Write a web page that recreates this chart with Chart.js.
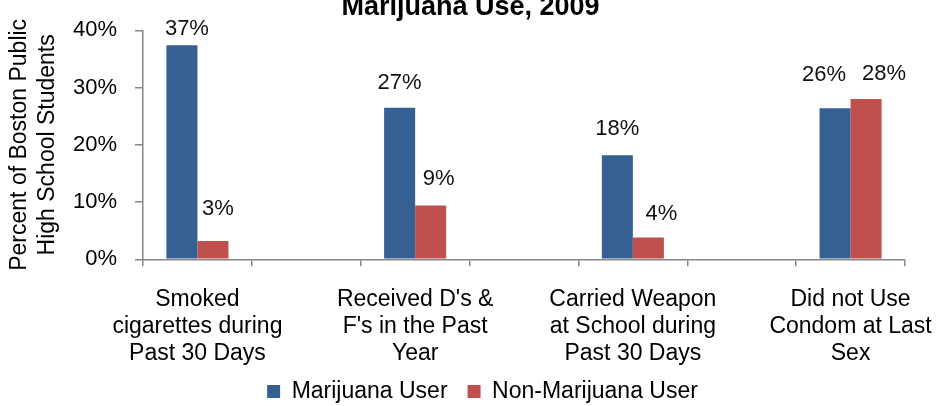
<!DOCTYPE html>
<html>
<head>
<meta charset="utf-8">
<script src="https://cdn.jsdelivr.net/npm/chart.js@4.4.1/dist/chart.umd.min.js"></script>
<style>
  html, body { margin: 0; padding: 0; background: #fff; overflow: hidden; }
  #wrap { position: relative; width: 941px; height: 433px; margin-top: -20px; }
</style>
</head>
<body>
<div id="wrap"><canvas id="chart"></canvas></div>
<script>
// blank slots between groups keep the wide gaps between the bar pairs
const categories = [
    ['Smoked', 'cigarettes during', 'Past 30 Days'],
    '',
    ["Received D's &", "F's in the Past", 'Year'],
    '',
    ['Carried Weapon', 'at School during', 'Past 30 Days'],
    '',
    ['Did not Use', 'Condom at Last', 'Sex']
];
const marijuanaUser = [37.4, null, 26.5, null, 18.2, null, 26.4];
const nonMarijuanaUser = [3.2, null, 9.4, null, 3.8, null, 28.0];
const yTicks = [0, 10, 20, 30, 40];

const FONT = "'Liberation Sans', Arial, sans-serif";
const AXIS_GREY = '#868686';
const X_SQUEEZE = 27; // x labels run a little into the legend's band

// label nudges per bar: [dx, distance from bar top to label centre]
const labelNudge = [
    [[5, 16], null, [0, 25], null, [0, 26], null, [-11, 33]],
    [[5, 32], null, [8, 27], null, [13, 24], null, [18, 25]]
];

const valueLabels = {
    id: 'valueLabels',
    afterDatasetsDraw(chart) {
        const ctx = chart.ctx;
        ctx.save();
        ctx.font = `22px ${FONT}`;
        ctx.fillStyle = '#111';
        ctx.textAlign = 'center';
        ctx.textBaseline = 'middle';
        chart.data.datasets.forEach((ds, di) => {
            chart.getDatasetMeta(di).data.forEach((bar, i) => {
                const v = ds.data[i];
                if (v == null) return;
                const [dx, gap] = labelNudge[di][i] || [0, 14];
                ctx.fillText(Math.round(v) + '%', bar.x + dx, bar.y - gap);
            });
        });
        ctx.restore();
    }
};

// title and legend sit centred on the whole page, not on the padded plot
const recentre = {
    id: 'recentre',
    afterLayout(chart) {
        const t = chart.titleBlock, l = chart.legend;
        if (t) { t.left += 18; t.right += 18; }
        if (l) { l.left += 30; l.right += 30; }
        // give the label clip box its room back
        chart.scales.x.bottom += X_SQUEEZE;
    }
};

new Chart(document.getElementById('chart').getContext('2d'), {
    type: 'bar',
    data: {
        labels: categories,
        datasets: [
            {
                label: 'Marijuana User',
                data: marijuanaUser,
                backgroundColor: '#376092',
                categoryPercentage: 0.57,
                barPercentage: 1.0
            },
            {
                label: 'Non-Marijuana User',
                data: nonMarijuanaUser,
                backgroundColor: '#C0504D',
                categoryPercentage: 0.57,
                barPercentage: 1.0
            }
        ]
    },
    options: {
        responsive: true,
        maintainAspectRatio: false,
        animation: false,
        layout: { padding: { left: 0, right: 36, top: 0, bottom: 0 } },
        plugins: {
            title: {
                display: true,
                text: 'Marijuana Use, 2009',
                color: '#000',
                font: { family: FONT, size: 27, weight: 'bold' },
                padding: { top: 11, bottom: 7 }
            },
            legend: {
                position: 'bottom',
                labels: {
                    color: '#000',
                    font: { family: FONT, size: 23 },
                    boxWidth: 13,
                    boxHeight: 13,
                    padding: 20
                }
            },
            tooltip: { enabled: false }
        },
        scales: {
            x: {
                // long wrapped labels may spill past the plot edges
                afterFit: s => { s.paddingLeft = 0; s.paddingRight = 0; s.height -= X_SQUEEZE; },
                grid: {
                    display: true,
                    drawOnChartArea: false,
                    tickLength: 7,
                    color: AXIS_GREY,
                    lineWidth: 1.5
                },
                border: { color: AXIS_GREY, width: 1.5 },
                ticks: {
                    color: '#000',
                    font: { family: FONT, size: 23, lineHeight: 1.17 },
                    autoSkip: false,
                    maxRotation: 0,
                    minRotation: 0,
                    padding: 20
                }
            },
            y: {
                min: 0,
                max: 40,
                afterBuildTicks: s => { s.ticks = yTicks.map(v => ({ value: v })); },
                afterFit: s => { s.width = 143; },
                grid: {
                    display: true,
                    drawOnChartArea: false,
                    tickLength: 8,
                    color: AXIS_GREY,
                    lineWidth: 1.5
                },
                border: { color: AXIS_GREY, width: 1.5 },
                ticks: {
                    color: '#000',
                    font: { family: FONT, size: 22 },
                    padding: 18,
                    callback: v => v + '%'
                },
                title: {
                    display: true,
                    text: ['Percent of Boston Public', 'High School Students'],
                    color: '#000',
                    font: { family: FONT, size: 23, lineHeight: 1.22 },
                    padding: { top: 6, bottom: 0 }
                }
            }
        }
    },
    plugins: [valueLabels, recentre]
});
</script>
</body>
</html>
